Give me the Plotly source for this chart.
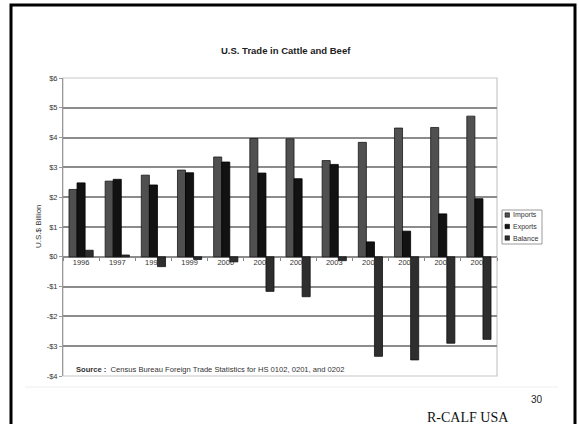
import plotly.graph_objects as go

years = ["1996", "1997", "1998", "1999", "2000", "2001", "2002", "2003", "2004", "2005", "2006", "2007"]
imports = [2.26, 2.54, 2.74, 2.91, 3.35, 3.97, 3.96, 3.23, 3.84, 4.32, 4.34, 4.72]
exports = [2.48, 2.60, 2.41, 2.82, 3.18, 2.81, 2.62, 3.10, 0.50, 0.86, 1.44, 1.95]
balance = [0.22, 0.06, -0.33, -0.09, -0.17, -1.16, -1.34, -0.13, -3.34, -3.46, -2.90, -2.77]

y_ticks = [6, 5, 4, 3, 2, 1, 0, -1, -2, -3, -4]
y_tick_text = ["$6", "$5", "$4", "$3", "$2", "$1", "$0", "-$1", "-$2", "-$3", "-$4"]

series = [
    ("Imports", imports, "#505050", "#1a1a1a"),
    ("Exports", exports, "#121212", "#000000"),
    ("Balance", balance, "#2e2e2e", "#111111"),
]

W, H = 579, 424
L, R, T, B = 63, 497, 78, 376  # plot area in pixels


def px(x):
    return (x - L) / (R - L)


def py(y):
    return (B - y) / (B - T)


FONT = "Liberation Sans, Arial, sans-serif"

fig = go.Figure()
for name, vals, fill, edge in series:
    fig.add_bar(x=years, y=vals, name=name,
                marker=dict(color=fill, line=dict(color=edge, width=0.8)))

shapes = [
    # slide frame
    dict(type="rect", xref="paper", yref="paper", x0=px(11), x1=px(575), y0=py(440), y1=py(5),
         line=dict(color="#000000", width=3), layer="below"),
    # chart plot border
    dict(type="rect", xref="paper", yref="paper", x0=0, x1=1, y0=0, y1=1,
         line=dict(color="#c8c8c8", width=1.2), layer="below"),
    # thin rule under the chart
    dict(type="line", xref="paper", yref="paper", x0=px(25), x1=px(558), y0=py(387), y1=py(387),
         line=dict(color="#eeeeee", width=1)),
    # legend box
    dict(type="rect", xref="paper", yref="paper", x0=px(502), x1=px(542), y0=py(244), y1=py(210),
         line=dict(color="#9a9a9a", width=1), fillcolor="white"),
]

annotations = [
    dict(text="<b>U.S. Trade in Cattle and Beef</b>", xref="paper", yref="paper",
         x=px(286), y=py(51), xanchor="center", yanchor="middle", showarrow=False,
         font=dict(family=FONT, size=9.5, color="#222222")),
    dict(text="U.S.$ Billion", xref="paper", yref="paper", x=px(39), y=py(226), textangle=-90,
         xanchor="center", yanchor="middle", showarrow=False,
         font=dict(family=FONT, size=8, color="#333333")),
    dict(text="<b>Source :</b>  Census Bureau Foreign Trade Statistics for HS 0102, 0201, and 0202",
         xref="paper", yref="paper", x=px(74), y=py(369), xanchor="left", yanchor="middle",
         showarrow=False, font=dict(family=FONT, size=7.6, color="#333333")),
    dict(text="30", xref="paper", yref="paper", x=px(537), y=py(399), xanchor="center",
         yanchor="middle", showarrow=False, font=dict(family=FONT, size=10, color="#222222")),
    dict(text="R-CALF USA", xref="paper", yref="paper", x=px(468), y=py(417), xanchor="center",
         yanchor="middle", showarrow=False,
         font=dict(family="Liberation Serif, Times New Roman, serif", size=14, color="#111111")),
]

# legend entries: small swatch plus label
row_y = [215, 226.5, 238]
for (name, _vals, fill, edge), ry in zip(series, row_y):
    shapes.append(dict(type="rect", xref="paper", yref="paper",
                       x0=px(505), x1=px(509.5), y0=py(ry + 2.2), y1=py(ry - 2.2),
                       fillcolor=fill, line=dict(color=edge, width=0.6)))
    annotations.append(dict(text=name, xref="paper", yref="paper", x=px(511), y=py(ry),
                            xanchor="left", yanchor="middle", showarrow=False,
                            font=dict(family=FONT, size=7, color="#333333")))

fig.update_layout(
    width=W, height=H,
    margin=dict(l=L, r=W - R, t=T, b=H - B),
    paper_bgcolor="white", plot_bgcolor="white",
    barmode="group", bargap=0.33, bargroupgap=0,
    showlegend=False,
    shapes=shapes, annotations=annotations,
    font=dict(family=FONT),
)

fig.update_xaxes(
    type="category", anchor="free", position=0.4,
    showgrid=False, showline=False, zeroline=False,
    ticks="outside", ticklen=3, tickcolor="#888888", tickson="boundaries",
    tickfont=dict(family=FONT, size=7.5, color="#333333"),
)
fig.update_yaxes(
    range=[-4, 6], tickmode="array", tickvals=y_ticks, ticktext=y_tick_text,
    showgrid=True, gridcolor="#8c8c8c", gridwidth=1.5,
    zeroline=True, zerolinecolor="#8c8c8c", zerolinewidth=1.5,
    showline=True, linecolor="#999999", linewidth=1,
    ticks="outside", ticklen=3, tickcolor="#999999",
    tickfont=dict(family=FONT, size=7.5, color="#333333"),
)

fig.write_html("out.html")
